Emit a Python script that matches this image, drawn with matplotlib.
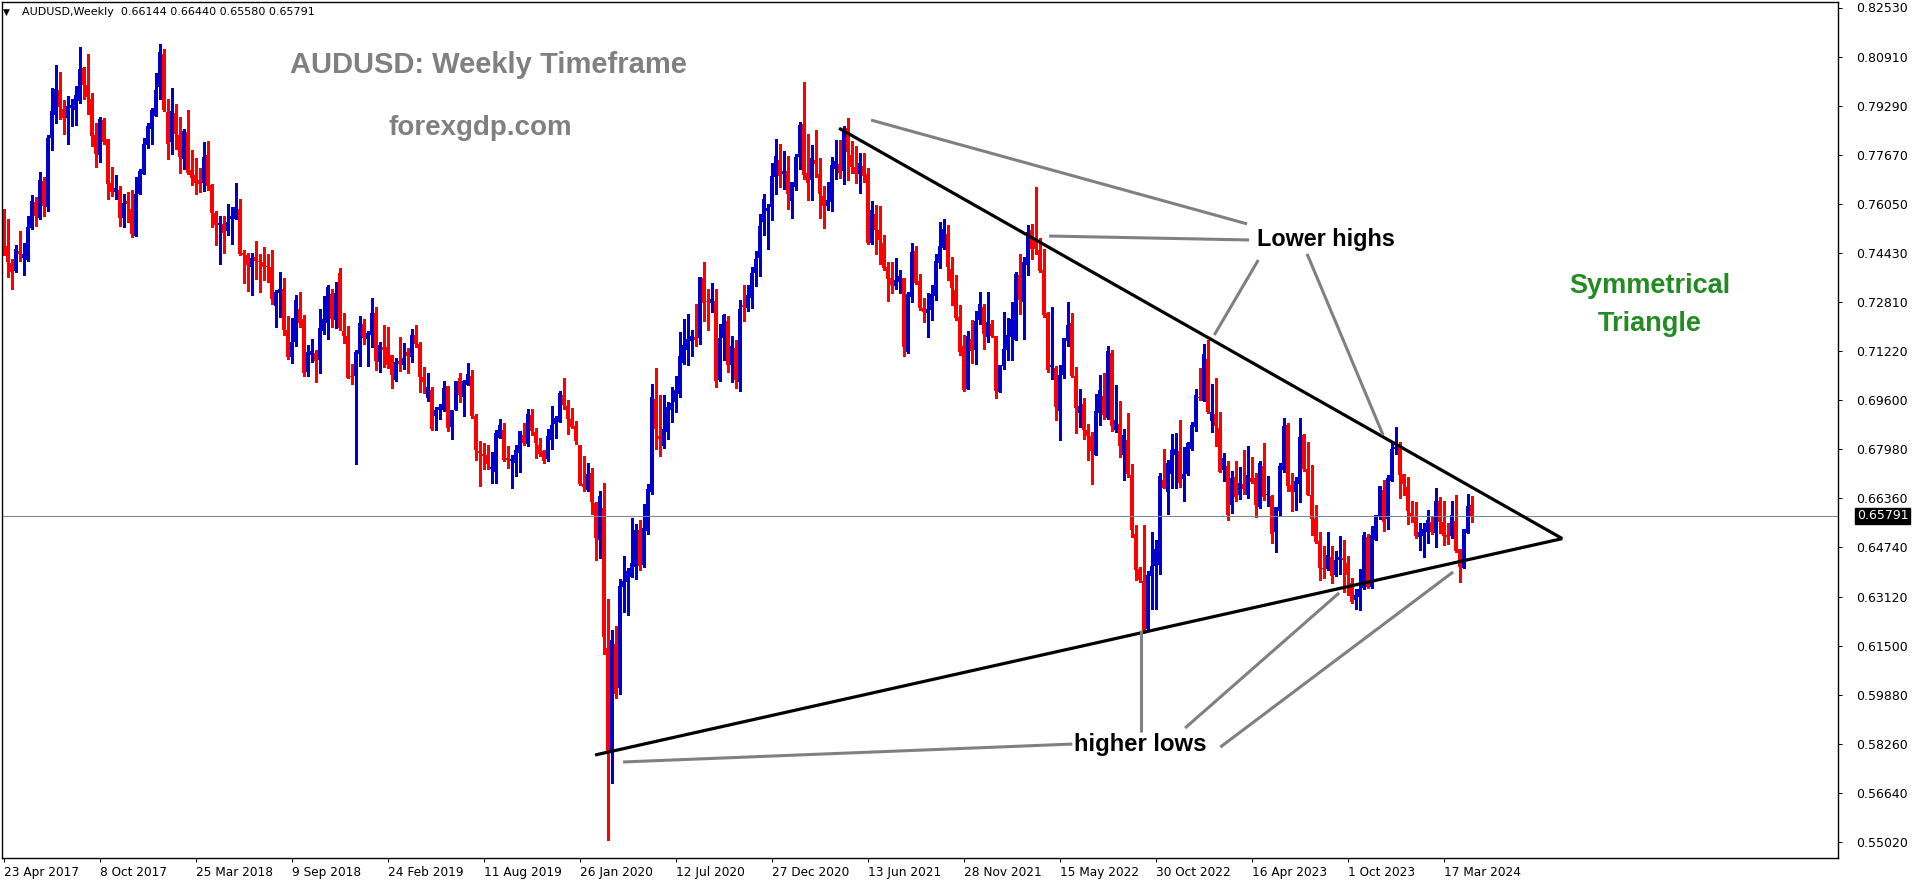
import numpy as np
import matplotlib
matplotlib.use("Agg")
import matplotlib.pyplot as plt

# AUDUSD weekly candles, prices in units of 0.0001
# first candle = week of 23 Apr 2017
opens = [
    7586, 7467, 7412, 7386, 7451, 7428, 7421, 7528, 7612, 7558, 7682, 7597, 7823, 7899, 7981, 7919,
    7889, 7922, 7915, 7945, 8054, 7998, 7952, 7833, 7767, 7883, 7820, 7675, 7645, 7652, 7560, 7616,
    7589, 7500, 7639, 7705, 7800, 7853, 7896, 7991, 8100, 7909, 7810, 7906, 7833, 7754, 7843, 7718,
    7701, 7685, 7675, 7767, 7668, 7576, 7537, 7540, 7517, 7556, 7556, 7589, 7443, 7438, 7399, 7431,
    7418, 7415, 7399, 7397, 7271, 7313, 7326, 7191, 7100, 7151, 7260, 7227, 7052, 7108, 7115, 7092,
    7187, 7214, 7309, 7224, 7378, 7187, 7171, 7040, 7040, 7112, 7210, 7161, 7174, 7247, 7085, 7135,
    7135, 7108, 7026, 7089, 7075, 7118, 7102, 7174, 7145, 7036, 6967, 6993, 6907, 6927, 6927, 7006,
    6871, 6927, 7033, 6970, 7009, 7039, 6907, 6792, 6782, 6778, 6732, 6722, 6834, 6861, 6769, 6759,
    6752, 6785, 6844, 6815, 6910, 6854, 6811, 6792, 6765, 6828, 6881, 6887, 6976, 6940, 6897, 6874,
    6811, 6683, 6663, 6719, 6620, 6500, 6604, 6143, 5807, 6156, 6011, 6344, 6360, 6377, 6410, 6532,
    6416, 6528, 6657, 6963, 6841, 6808, 6855, 6927, 6953, 6980, 7082, 7125, 7154, 7167, 7164, 7362,
    7284, 7279, 7286, 7026, 7164, 7220, 7075, 7131, 7019, 7273, 7263, 7296, 7378, 7428, 7546, 7582,
    7596, 7694, 7750, 7704, 7714, 7615, 7662, 7760, 7869, 7708, 7685, 7750, 7704, 7632, 7599, 7612,
    7721, 7737, 7714, 7856, 7767, 7727, 7704, 7731, 7704, 7477, 7573, 7520, 7477, 7398, 7362, 7335,
    7349, 7362, 7118, 7299, 7451, 7352, 7263, 7246, 7256, 7302, 7411, 7461, 7507, 7391, 7322, 7233,
    7138, 6996, 7161, 7125, 7223, 7266, 7167, 7210, 7171, 6986, 7072, 7125, 7167, 7157, 7372, 7283,
    7405, 7520, 7490, 7454, 7388, 7246, 7069, 7065, 6924, 7042, 7154, 7214, 7039, 6917, 6947, 6860,
    6842, 6779, 6918, 6974, 6901, 7115, 6862, 6881, 6779, 6829, 6713, 6519, 6404, 6364, 6206, 6381,
    6414, 6417, 6697, 6657, 6717, 6779, 6792, 6700, 6717, 6799, 6871, 6970, 6957, 7095, 6891, 6914,
    6868, 6730, 6743, 6615, 6707, 6648, 6684, 6648, 6704, 6704, 6608, 6743, 6648, 6644, 6526, 6595,
    6730, 6878, 6680, 6657, 6684, 6845, 6733, 6648, 6572, 6496, 6407, 6403, 6443, 6384, 6433, 6440,
    6423, 6357, 6301, 6311, 6341, 6509, 6344, 6499, 6575, 6664, 6568, 6693, 6799, 6808, 6716, 6673,
    6588, 6575, 6509, 6512, 6525, 6558, 6522, 6627, 6558, 6515, 6512, 6561, 6469, 6407, 6522, 6614,
]
highs = [
    7590, 7556, 7425, 7471, 7517, 7478, 7566, 7635, 7629, 7711, 7695, 7833, 7988, 8064, 8041, 7948,
    7962, 7952, 7995, 8123, 8057, 8100, 7971, 7873, 7892, 7889, 7820, 7728, 7701, 7665, 7639, 7645,
    7652, 7695, 7721, 7823, 7873, 7922, 8037, 8133, 8116, 7952, 7988, 7935, 7892, 7853, 7915, 7784,
    7757, 7724, 7810, 7813, 7672, 7583, 7566, 7566, 7606, 7596, 7675, 7622, 7454, 7445, 7445, 7484,
    7442, 7464, 7442, 7454, 7321, 7383, 7362, 7237, 7230, 7306, 7316, 7240, 7141, 7161, 7125, 7260,
    7303, 7339, 7326, 7347, 7395, 7247, 7204, 7079, 7125, 7237, 7227, 7187, 7296, 7266, 7151, 7207,
    7201, 7108, 7098, 7168, 7148, 7131, 7194, 7207, 7151, 7069, 7049, 7003, 6937, 6947, 7023, 7006,
    6927, 7023, 7049, 7026, 7082, 7059, 6914, 6825, 6818, 6811, 6788, 6861, 6897, 6884, 6808, 6778,
    6811, 6857, 6884, 6930, 6930, 6867, 6834, 6795, 6864, 6940, 6907, 6989, 7032, 6960, 6933, 6890,
    6811, 6775, 6752, 6736, 6624, 6660, 6686, 6304, 6202, 6215, 6370, 6446, 6406, 6571, 6551, 6565,
    6617, 6683, 7013, 7065, 6976, 6976, 6953, 7003, 7039, 7184, 7227, 7243, 7190, 7276, 7365, 7414,
    7326, 7345, 7326, 7210, 7243, 7237, 7171, 7158, 7289, 7339, 7339, 7398, 7451, 7573, 7638, 7606,
    7741, 7820, 7803, 7780, 7764, 7678, 7770, 7876, 8007, 7836, 7800, 7849, 7757, 7665, 7678, 7760,
    7816, 7816, 7862, 7889, 7813, 7797, 7774, 7774, 7724, 7615, 7602, 7599, 7503, 7414, 7414, 7428,
    7388, 7362, 7316, 7477, 7467, 7375, 7296, 7312, 7339, 7441, 7546, 7556, 7536, 7431, 7372, 7273,
    7174, 7187, 7223, 7253, 7316, 7276, 7316, 7223, 7171, 7075, 7250, 7230, 7283, 7381, 7441, 7431,
    7536, 7540, 7661, 7493, 7457, 7250, 7266, 7072, 7075, 7164, 7283, 7246, 7069, 6996, 6966, 6880,
    6855, 6980, 7043, 7049, 7138, 7125, 7010, 6957, 6865, 6918, 6750, 6549, 6410, 6549, 6397, 6526,
    6499, 6720, 6799, 6763, 6848, 6852, 6895, 6806, 6822, 6888, 6997, 7066, 7145, 7158, 7013, 7033,
    6921, 6786, 6760, 6727, 6760, 6740, 6796, 6809, 6773, 6720, 6760, 6819, 6710, 6648, 6608, 6753,
    6901, 6885, 6720, 6707, 6901, 6848, 6822, 6746, 6615, 6526, 6479, 6525, 6479, 6463, 6512, 6499,
    6446, 6374, 6337, 6403, 6525, 6519, 6545, 6581, 6677, 6696, 6713, 6825, 6871, 6822, 6716, 6706,
    6627, 6624, 6555, 6555, 6598, 6578, 6670, 6640, 6627, 6555, 6627, 6647, 6469, 6535, 6650, 6644,
]
lows = [
    7438, 7366, 7327, 7383, 7419, 7370, 7419, 7523, 7533, 7556, 7566, 7583, 7784, 7873, 7886, 7836,
    7803, 7863, 7866, 7939, 7952, 7902, 7797, 7728, 7744, 7803, 7622, 7632, 7622, 7533, 7530, 7547,
    7497, 7500, 7639, 7705, 7790, 7803, 7896, 7952, 7912, 7754, 7771, 7787, 7708, 7721, 7705, 7668,
    7639, 7645, 7649, 7652, 7530, 7471, 7408, 7444, 7504, 7474, 7556, 7438, 7344, 7320, 7306, 7358,
    7316, 7355, 7347, 7276, 7201, 7233, 7174, 7096, 7083, 7138, 7201, 7040, 7040, 7085, 7019, 7049,
    7177, 7161, 7201, 7197, 7191, 7148, 7033, 7013, 6749, 7072, 7145, 7072, 7135, 7059, 7052, 7069,
    7066, 7000, 7023, 7056, 7062, 7049, 7085, 7135, 6986, 6983, 6957, 6861, 6861, 6897, 6924, 6858,
    6832, 6927, 6953, 6907, 7009, 6901, 6762, 6677, 6732, 6732, 6686, 6686, 6834, 6759, 6736, 6670,
    6709, 6722, 6811, 6808, 6844, 6769, 6775, 6752, 6759, 6798, 6834, 6887, 6930, 6848, 6867, 6815,
    6680, 6660, 6660, 6584, 6433, 6440, 6123, 5511, 5699, 5978, 5991, 6262, 6252, 6377, 6370, 6400,
    6410, 6518, 6650, 6799, 6775, 6800, 6831, 6887, 6920, 6970, 7079, 7075, 7105, 7138, 7144, 7220,
    7190, 7250, 7003, 7023, 7092, 7052, 7019, 6999, 6990, 7220, 7253, 7263, 7335, 7368, 7503, 7457,
    7553, 7638, 7662, 7655, 7589, 7559, 7652, 7721, 7688, 7619, 7619, 7694, 7559, 7526, 7586, 7582,
    7688, 7691, 7671, 7685, 7708, 7675, 7642, 7678, 7474, 7474, 7441, 7408, 7388, 7286, 7312, 7325,
    7312, 7105, 7115, 7283, 7342, 7256, 7217, 7167, 7223, 7289, 7395, 7457, 7355, 7273, 7223, 7108,
    6990, 6996, 7082, 7078, 7210, 7128, 7151, 7167, 6966, 6986, 7062, 7092, 7092, 7157, 7243, 7161,
    7372, 7424, 7441, 7381, 7233, 7052, 7029, 6894, 6829, 7032, 7138, 7036, 6850, 6870, 6830, 6763,
    6684, 6779, 6878, 6898, 6898, 6858, 6855, 6773, 6697, 6707, 6509, 6368, 6360, 6193, 6203, 6272,
    6272, 6387, 6671, 6585, 6671, 6671, 6674, 6628, 6713, 6796, 6858, 6960, 6957, 6918, 6855, 6809,
    6723, 6694, 6565, 6588, 6628, 6634, 6651, 6638, 6687, 6575, 6604, 6631, 6611, 6489, 6460, 6582,
    6723, 6661, 6595, 6598, 6624, 6727, 6648, 6516, 6489, 6368, 6374, 6400, 6357, 6380, 6387, 6328,
    6318, 6291, 6272, 6268, 6337, 6341, 6341, 6499, 6568, 6528, 6535, 6693, 6782, 6637, 6647, 6552,
    6558, 6505, 6466, 6443, 6489, 6519, 6476, 6522, 6482, 6486, 6505, 6459, 6360, 6407, 6522, 6558,
]
closes = [
    7485, 7416, 7383, 7458, 7442, 7441, 7530, 7616, 7566, 7685, 7599, 7823, 7912, 7985, 7925, 7889,
    7929, 7932, 7965, 8051, 7998, 7958, 7830, 7771, 7886, 7810, 7672, 7645, 7659, 7560, 7609, 7606,
    7507, 7639, 7715, 7803, 7863, 7915, 7981, 8107, 7915, 7803, 7912, 7836, 7761, 7846, 7708, 7691,
    7675, 7672, 7761, 7665, 7576, 7537, 7543, 7510, 7547, 7566, 7596, 7441, 7439, 7405, 7429, 7419,
    7415, 7399, 7397, 7293, 7317, 7326, 7192, 7102, 7151, 7289, 7214, 7049, 7118, 7121, 7089, 7197,
    7227, 7333, 7227, 7313, 7197, 7171, 7033, 7037, 7118, 7214, 7164, 7181, 7247, 7089, 7141, 7125,
    7075, 7042, 7085, 7079, 7098, 7105, 7174, 7145, 7036, 7019, 7003, 6865, 6927, 6937, 7000, 6868,
    6927, 7023, 6977, 7023, 7046, 6907, 6795, 6784, 6775, 6749, 6739, 6851, 6877, 6762, 6762, 6765,
    6795, 6857, 6818, 6913, 6857, 6818, 6782, 6759, 6841, 6877, 6900, 6983, 6943, 6897, 6871, 6825,
    6683, 6673, 6716, 6624, 6505, 6644, 6179, 5801, 6169, 5991, 6347, 6364, 6397, 6423, 6532, 6413,
    6538, 6667, 6970, 6864, 6831, 6864, 6937, 6950, 6993, 7105, 7141, 7161, 7171, 7158, 7365, 7279,
    7281, 7293, 7023, 7164, 7240, 7075, 7138, 7026, 7260, 7266, 7306, 7378, 7424, 7533, 7622, 7592,
    7698, 7764, 7698, 7714, 7638, 7678, 7760, 7866, 7701, 7675, 7757, 7737, 7638, 7599, 7619, 7734,
    7747, 7708, 7846, 7777, 7727, 7704, 7741, 7698, 7477, 7586, 7520, 7487, 7395, 7358, 7339, 7355,
    7368, 7134, 7309, 7447, 7345, 7263, 7250, 7260, 7309, 7418, 7467, 7523, 7398, 7329, 7230, 7118,
    6993, 7171, 7121, 7220, 7276, 7177, 7217, 7171, 6990, 7075, 7128, 7174, 7227, 7375, 7289, 7414,
    7513, 7457, 7457, 7385, 7240, 7059, 7075, 6937, 7042, 7164, 7207, 7039, 6934, 6940, 6860, 6842,
    6792, 6924, 6993, 6911, 7122, 6875, 6895, 6809, 6845, 6717, 6532, 6400, 6368, 6200, 6384, 6414,
    6470, 6710, 6671, 6753, 6796, 6799, 6687, 6717, 6819, 6878, 6977, 6967, 7112, 6921, 6921, 6875,
    6723, 6769, 6582, 6704, 6641, 6687, 6667, 6713, 6690, 6615, 6753, 6641, 6651, 6519, 6608, 6743,
    6875, 6675, 6657, 6694, 6839, 6733, 6648, 6568, 6493, 6407, 6404, 6449, 6380, 6433, 6443, 6433,
    6384, 6295, 6318, 6337, 6515, 6344, 6515, 6581, 6677, 6558, 6703, 6799, 6805, 6713, 6683, 6594,
    6578, 6512, 6525, 6535, 6565, 6525, 6627, 6558, 6512, 6509, 6581, 6463, 6410, 6535, 6611, 6579,
]

date_labels = ["23 Apr 2017", "8 Oct 2017", "25 Mar 2018", "9 Sep 2018", "24 Feb 2019",
               "11 Aug 2019", "26 Jan 2020", "12 Jul 2020", "27 Dec 2020", "13 Jun 2021",
               "28 Nov 2021", "15 May 2022", "30 Oct 2022", "16 Apr 2023", "1 Oct 2023",
               "17 Mar 2024"]
weeks_per_label = 24
price_labels = ["0.82530", "0.80910", "0.79290", "0.77670", "0.76050", "0.74430",
                "0.72810", "0.71220", "0.69600", "0.67980", "0.66360", "0.64740",
                "0.63120", "0.61500", "0.59880", "0.58260", "0.56640", "0.55020"]
last_price = "0.65791"
header = "AUDUSD,Weekly  0.66144 0.66440 0.65580 0.65791"

# triangle and pointer lines, (week index, price)
upper_line = [(208.9, 0.7855), (389.7, 0.6503)]
lower_line = [(147.9, 0.5790), (389.7, 0.6503)]
pointer_lines = [
    [(216.9, 0.7882), (310.9, 0.7540)],
    [(261.4, 0.7500), (311.4, 0.7487)],
    [(302.7, 0.7174), (313.7, 0.7421)],
    [(325.9, 0.7441), (344.9, 0.6844)],
    [(154.9, 0.5767), (267.2, 0.5826)],
    [(284.4, 0.6202), (284.4, 0.5866)],
    [(295.4, 0.5879), (333.9, 0.6324)],
    [(304.2, 0.5816), (362.4, 0.6393)],
]

W, H = 1914, 884
BLUE = "#0000cd"
RED = "#ff0000"

o = np.array(opens) / 1e4
h = np.array(highs) / 1e4
l = np.array(lows) / 1e4
c = np.array(closes) / 1e4
x = np.arange(len(o))
cols = np.where(c >= o, BLUE, RED)

fig = plt.figure(figsize=(W / 100, H / 100), dpi=100)
# plot frame in pixels: x 2..1838, y 2..858
ax = fig.add_axes([2 / W, (H - 858) / H, 1836 / W, 856 / H])

px = 0.0003295  # price per pixel
ax.set_ylim(0.82530 - (858 - 7.5) * px, 0.82530 + (7.5 - 2) * px)
ax.set_xlim(-0.375, 458.625)

ax.vlines(x, l, h, colors=cols, linewidth=0.75, antialiased=False)
body = np.maximum(np.abs(c - o), px)
ax.bar(x, body, bottom=np.minimum(o, c), width=0.75, color=cols,
       linewidth=0, antialiased=False)

ax.axhline(float(last_price), color="#778899", linewidth=0.75)

for (x0, y0), (x1, y1) in [upper_line, lower_line]:
    ax.plot([x0, x1], [y0, y1], color="black", linewidth=2.3, solid_capstyle="butt")
for (x0, y0), (x1, y1) in pointer_lines:
    ax.plot([x0, x1], [y0, y1], color="#808080", linewidth=2.2, solid_capstyle="butt")

bold = dict(family="Liberation Sans", fontweight="bold")
ax.text(71.7, 0.8065, "AUDUSD: Weekly Timeframe", color="#808080", fontsize=21,
        va="center", ha="left", **bold)
ax.text(96.2, 0.7856, "forexgdp.com", color="#808080", fontsize=20,
        va="center", ha="left", **bold)
ax.text(313.4, 0.7490, "Lower highs", color="black", fontsize=16.8,
        va="center", ha="left", **bold)
ax.text(267.7, 0.5823, "higher lows", color="black", fontsize=17.2,
        va="center", ha="left", **bold)
ax.text(411.6, 0.7272, "Symmetrical\nTriangle", color="#228b22", fontsize=19.5,
        va="center", ha="center", linespacing=1.62, **bold)

# axes look like the terminal
for s in ax.spines.values():
    s.set_linewidth(1)
ax.yaxis.tick_right()
ax.set_yticks([float(v) for v in price_labels])
ax.set_yticklabels(price_labels, fontsize=9, family="DejaVu Sans")
ax.set_xticks(np.arange(len(date_labels)) * weeks_per_label)
ax.set_xticklabels(date_labels, fontsize=8.75, family="DejaVu Sans", ha="left")
ax.tick_params(axis="both", length=3, width=0.75, direction="out")
ax.tick_params(axis="y", pad=10)
ax.tick_params(axis="x", pad=3)

ax.text(1.0103, float(last_price), last_price, transform=ax.get_yaxis_transform(),
        fontsize=9, family="DejaVu Sans", color="white", va="center", ha="left",
        bbox=dict(boxstyle="square,pad=0.12", facecolor="black", edgecolor="black"))

fig.text(3 / W, 1 - 12 / H, "\u25bc", fontsize=6.5, va="center", ha="left")
fig.text(22 / W, 1 - 12 / H, header, fontsize=8, family="DejaVu Sans",
         va="center", ha="left")

fig.savefig("out.png", dpi=100)
